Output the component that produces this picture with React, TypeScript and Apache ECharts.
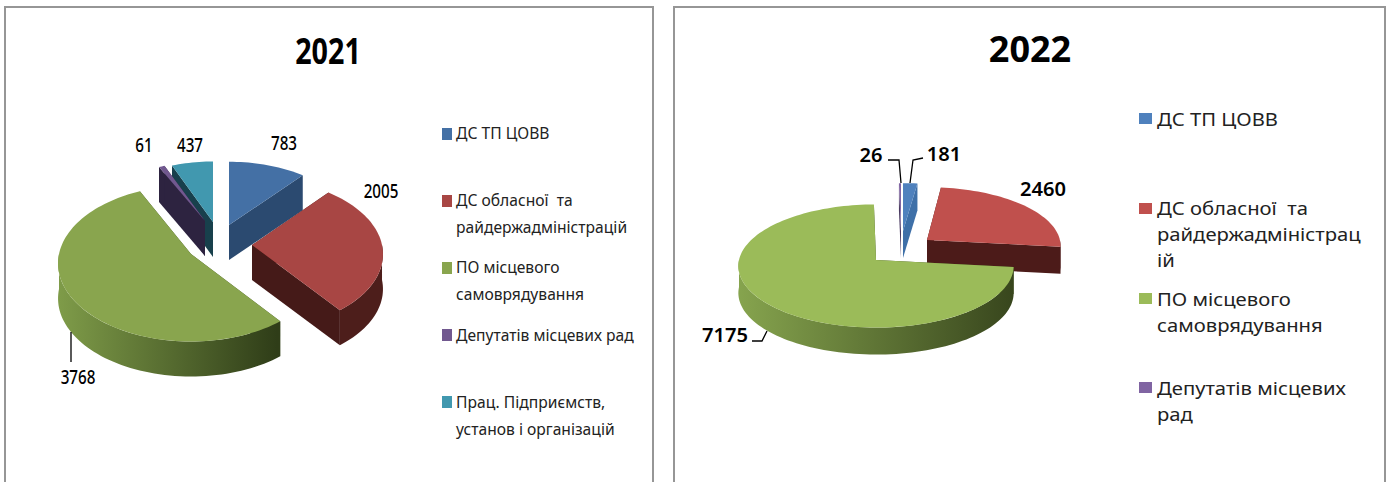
import React, { useEffect, useRef } from "react";
import * as echarts from "echarts";

const titles = ["2021", "2022"];
const names2021 = ["ДС ТП ЦОВВ", "ДС обласної  та\nрайдержадміністрацій", "ПО місцевого\nсамоврядування", "Депутатів місцевих рад", "Прац. Підприємств,\nустанов і організацій"];
const values2021 = [783, 2005, 3768, 61, 437];
const names2022 = ["ДС ТП ЦОВВ", "ДС обласної  та\nрайдержадміністрац\nій", "ПО місцевого\nсамоврядування", "Депутатів місцевих\nрад"];
const values2022 = [181, 2460, 7175, 26];

const FONT = "'Noto Sans', sans-serif";

type Panel = {
  values: number[];
  apex: number[][];
  drawRank: number[];
  rxScale: number[]; ryScale: number[];
  R: number; Ry: number; persp: number; depth: number;
  top: string[]; side: string[]; wallFrom: string[]; wallTo: string[];
  wallX: number[];
  labelPos: number[][];
  labelStyle: { size: number; weight: number; scale: number };
  leaders: number[][][];
};

const panel2021: Panel = {
  values: values2021,
  apex: [[229, 225], [252, 245], [191, 254], [205, 221], [213, 222]],
  drawRank: [2, 3, 4, 1, 0],
  rxScale: [0.95, 0.985, 1, 0.9, 0.91],
  ryScale: [0.92, 0.97, 1, 0.86, 0.88],
  R: 132, Ry: 77, persp: 0.12, depth: 35,
  top: ["#4470a5", "#a84644", "#89a54e", "#71588f", "#4198af"],
  side: ["#2b4a70", "#451a18", "#3c4c20", "#2d2340", "#18404c"],
  wallFrom: ["#2b4a70", "#451a18", "#7f9c49", "#2d2340", "#18404c"],
  wallTo: ["#2b4a70", "#4d1e1b", "#2f3d18", "#2d2340", "#18404c"],
  wallX: [57, 277],
  labelPos: [[284, 143], [381, 191], [78, 377], [144, 145], [190, 145]],
  labelStyle: { size: 19, weight: 500, scale: 0.8 },
  leaders: [[[71, 332], [71, 362]]],
};

const panel2022: Panel = {
  values: values2022,
  apex: [[903, 231], [927, 240], [876, 260], [901, 231]],
  drawRank: [1, 2, 3, 0],
  rxScale: [1, 0.97, 1, 1],
  ryScale: [0.86, 0.95, 1, 0.86],
  R: 137, Ry: 61, persp: 0.097, depth: 27,
  top: ["#4f81bd", "#c0504d", "#9bbb59", "#8064a2"],
  side: ["#3f70a8", "#4c1b19", "#3f4f20", "#4a3a60"],
  wallFrom: ["#3f70a8", "#4c1b19", "#86a44e", "#4a3a60"],
  wallTo: ["#3f70a8", "#4c1b19", "#38461d", "#4a3a60"],
  wallX: [738, 1013],
  labelPos: [[944, 154], [1043, 189], [725, 335], [871, 155]],
  labelStyle: { size: 19, weight: 600, scale: 1.06 },
  leaders: [
    [[888, 160], [899, 160], [901, 183]],
    [[910, 183], [913, 160], [923, 158]],
    [[752, 341], [762, 341], [767, 331]],
  ],
};

function buildRender(p: Panel) {
  const total = p.values.reduce((a, b) => a + b, 0);
  return (params: any, api: any) => {
    const i = params.dataIndex;
    const before = p.values.slice(0, i).reduce((a, b) => a + b, 0);
    const a0 = (before / total) * 360;
    const a1 = ((before + api.value(0)) / total) * 360;
    const [ox, oy] = p.apex[i];
    const proj = (deg: number, drop = 0) => {
      const t = (deg * Math.PI) / 180;
      const u = Math.sin(t);
      const v = Math.cos(t);
      const w = 1 + p.persp * v;
      return [ox + (p.R * p.rxScale[i] * u) / w, oy - (p.Ry * p.ryScale[i] * v) / w + drop];
    };
    const arc = (from: number, to: number, drop = 0) => {
      const n = Math.max(2, Math.ceil((to - from) / 2));
      const pts: number[][] = [];
      for (let k = 0; k <= n; k++) pts.push(proj(from + ((to - from) * k) / n, drop));
      return pts;
    };
    const z = p.drawRank[i] * 10;
    const kids: any[] = [];
    const face = (from: number) => {
      const e = proj(from);
      return [[ox, oy], e, [e[0], e[1] + p.depth], [ox, oy + p.depth]];
    };
    [a0, a1].forEach((ang) => {
      kids.push({ type: "polygon", z2: z + 1, shape: { points: face(ang) }, style: { fill: p.side[i] } });
    });
    const wf = Math.max(a0, 90);
    const wt = Math.min(a1, 270);
    if (wt > wf) {
      const pts = [...arc(wf, wt), ...arc(wf, wt, p.depth).reverse()];
      kids.push({
        type: "polygon", z2: z + 2, shape: { points: pts },
        style: {
          fill: {
            type: "linear", global: true, x: p.wallX[0], y: 0, x2: p.wallX[1], y2: 0,
            colorStops: [{ offset: 0, color: p.wallFrom[i] }, { offset: 1, color: p.wallTo[i] }],
          },
        },
      });
    }
    kids.push({ type: "polygon", z2: z + 3, shape: { points: [[ox, oy], ...arc(a0, a1)] }, style: { fill: p.top[i] } });
    const [lx, ly] = p.labelPos[i];
    kids.push({
      type: "text", z2: 100, x: lx, y: ly, scaleX: p.labelStyle.scale,
      style: {
        text: String(api.value(0)), fill: "#000", align: "center", verticalAlign: "middle",
        font: `${p.labelStyle.weight} ${p.labelStyle.size}px ${FONT}`,
      },
    });
    return { type: "group", children: kids };
  };
}

function txt(text: string, x: number, y: number, size: number, weight: number, scaleX: number, lineHeight: number, align = "left") {
  return {
    type: "text", x, y, scaleX, silent: true,
    style: { text, fill: "#000", align, verticalAlign: "top", lineHeight, font: `${weight} ${size}px ${FONT}` },
  };
}

const legend2021Marker = [[442, 128], [442, 195], [442, 262], [442, 329], [442, 396]];
const legend2021Text = [[456, 120], [456, 187], [456, 254], [456, 322], [456, 389]];
const legend2022Marker = [[1139, 113], [1139, 203], [1139, 293], [1139, 382]];
const legend2022Text = [[1157, 106], [1157, 195], [1157, 286], [1157, 375]];

function legendEls(names: string[], colors: string[], marks: number[][], texts: number[][], w: number, h: number, size: number, scale: number, lh: number, color: string) {
  const out: any[] = [];
  names.forEach((n, i) => {
    out.push({ type: "rect", shape: { x: marks[i][0], y: marks[i][1], width: w, height: h }, style: { fill: colors[i] } });
    const t: any = txt(n, texts[i][0], texts[i][1], size, 400, scale, lh);
    t.style.fill = color;
    out.push(t);
  });
  return out;
}

function frame(x0: number, x1: number) {
  return {
    type: "polyline",
    shape: { points: [[x0, 482], [x0, 7], [x1, 7], [x1, 482]] },
    style: { fill: "none", stroke: "#969696", lineWidth: 2 },
  };
}

function leaderEls(p: Panel) {
  return p.leaders.map((pts) => ({
    type: "polyline", z: 5, shape: { points: pts }, style: { fill: "none", stroke: "#000", lineWidth: 1.3 },
  }));
}

export default function App() {
  const ref = useRef<HTMLDivElement>(null);
  useEffect(() => {
    document.body.style.margin = "0";
    const chart = echarts.init(ref.current!, null, { renderer: "svg" });
    chart.setOption({
      animation: false,
      backgroundColor: "#fff",
      graphic: {
        elements: [
          frame(5, 653),
          frame(674, 1385),
          { ...txt(titles[0], 328, 28, 35, 700, 0.82, 44, "center") },
          { ...txt(titles[1], 1030, 26, 35, 700, 1.03, 44, "center") },
          ...legendEls(names2021, panel2021.top, legend2021Marker, legend2021Text, 10, 12, 17, 0.92, 26.5, "#222"),
          ...legendEls(names2022, panel2022.top, legend2022Marker, legend2022Text, 13, 11, 18, 1.125, 26, "#222"),
          ...leaderEls(panel2021),
          ...leaderEls(panel2022),
        ],
      },
      series: [
        { type: "custom", coordinateSystem: "none", silent: true, data: values2021.map((v) => [v]), renderItem: buildRender(panel2021) },
        { type: "custom", coordinateSystem: "none", silent: true, data: values2022.map((v) => [v]), renderItem: buildRender(panel2022) },
      ],
    });
    return () => chart.dispose();
  }, []);
  return <div ref={ref} style={{ width: 1389, height: 482 }} />;
}
